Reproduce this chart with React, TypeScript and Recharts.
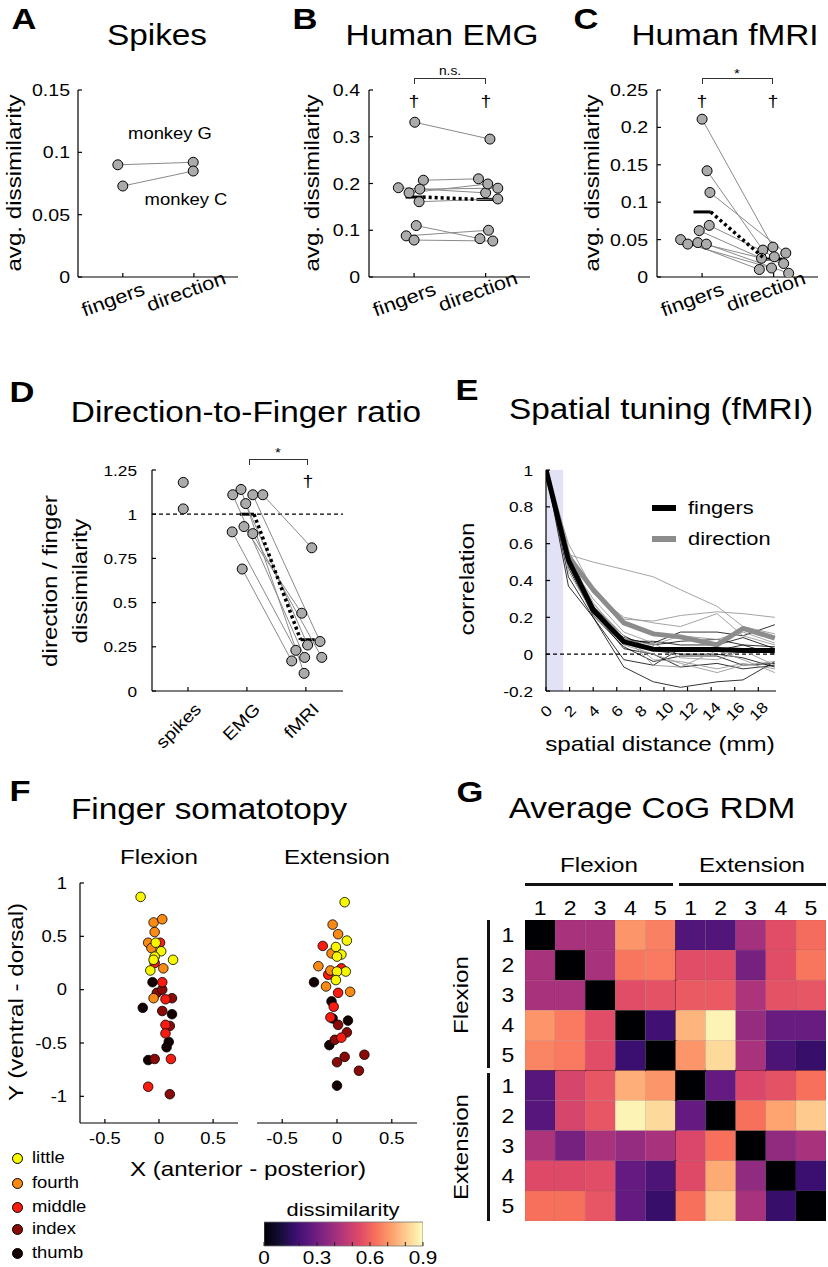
import React from 'react';
import {
  ScatterChart, Scatter, LineChart, Line, BarChart, Bar,
  XAxis, YAxis, ReferenceLine, ReferenceArea,
} from 'recharts';

const FONT = '"Liberation Sans", Arial, Helvetica, sans-serif';
const SX = 1.15;

// ---------- A: spikes (monkey G, monkey C) ----------
const spikeFingers = [0.090, 0.073];
const spikeFingersX = [0.93, 1.0];
const spikeDirection = [0.092, 0.085];
const spikeDirectionX = [1.99, 1.99];

// ---------- B: human EMG ----------
const emgFingers = [0.331, 0.191, 0.180, 0.207, 0.188, 0.161, 0.110, 0.088, 0.079];
const emgFingersX = [1.01, 0.78, 0.93, 1.13, 1.08, 1.07, 1.03, 0.89, 1.0];
const emgDirection = [0.295, 0.180, 0.199, 0.210, 0.190, 0.167, 0.082, 0.100, 0.077];
const emgDirectionX = [2.06, 2.0, 2.03, 1.90, 2.17, 2.17, 1.92, 2.04, 2.10];
const emgMeans = [0.171, 0.166];

// ---------- C: human fMRI ----------
const fmriFingers = [0.211, 0.142, 0.113, 0.069, 0.062, 0.050, 0.044, 0.046, 0.044];
const fmriFingersX = [1.0, 1.07, 1.11, 1.10, 0.96, 0.70, 0.80, 0.94, 1.06];
const fmriDirection = [0.040, 0.036, 0.032, 0.027, 0.025, 0.010, 0.012, 0.018, 0.005];
const fmriDirectionX = [1.99, 1.85, 2.17, 2.01, 1.83, 1.80, 1.97, 2.14, 2.21];
const fmriMeans = [0.087, 0.024];

// ---------- D: direction / finger ratio ----------
const ratioCategories = ['spikes', 'EMG', 'fMRI'];
const ratioSpikes = [1.18, 1.03];
const ratioSpikesX = [0.92, 0.92];
const ratioEmg = [1.11, 1.14, 1.11, 1.11, 1.06, 0.90, 0.93, 0.89, 0.69];
const ratioEmgX = [1.76, 1.90, 2.10, 2.27, 1.98, 1.75, 1.95, 2.10, 1.92];
const ratioFmri = [0.19, 0.10, 0.28, 0.81, 0.26, 0.23, 0.44, 0.19, 0.17];
const ratioFmriX = [2.98, 2.97, 3.24, 3.10, 3.03, 2.83, 2.93, 3.27, 2.76];
const ratioMeans = [1.0, 0.29];

// ---------- E: spatial tuning ----------
const distances = [0, 1.9, 4.0, 6.6, 9.1, 11.4, 14.5, 16.7, 19.4];
const fingersMean = [1, 0.51, 0.24, 0.067, 0.027, 0.025, 0.025, 0.02, 0.02];
const directionMean = [1, 0.53, 0.35, 0.17, 0.11, 0.094, 0.05, 0.14, 0.087];
const fingerSubjects = [
  [1, 0.42, 0.2, -0.07, -0.15, -0.18, -0.15, -0.14, -0.04],
  [1, 0.37, 0.2, -0.03, -0.06, 0.03, 0.02, 0.05, 0.0],
  [1, 0.5, 0.25, 0.08, 0.06, 0.12, 0.12, 0.1, 0.16],
  [1, 0.5, 0.22, 0.09, 0.05, 0.07, 0.08, 0.05, 0.04],
  [1, 0.47, 0.21, 0.04, -0.04, -0.01, -0.01, -0.06, -0.05],
  [1, 0.55, 0.26, 0.1, 0.02, 0.0, 0.0, -0.02, -0.07],
  [1, 0.52, 0.24, 0.07, 0.07, 0.05, 0.05, 0.09, 0.03],
  [1, 0.49, 0.23, 0.03, 0.0, -0.07, -0.05, -0.08, -0.06],
];
const directionSubjects = [
  [1, 0.54, 0.5, 0.46, 0.42, 0.35, 0.26, 0.15, 0.11],
  [1, 0.6, 0.35, 0.19, 0.18, 0.21, 0.23, 0.22, 0.2],
  [1, 0.56, 0.33, 0.2, 0.17, 0.15, 0.22, 0.1, 0.05],
  [1, 0.5, 0.3, 0.12, 0.06, -0.02, -0.03, 0.02, -0.06],
  [1, 0.48, 0.27, 0.1, -0.03, -0.04, -0.08, -0.05, -0.08],
  [1, 0.52, 0.28, 0.08, 0.05, 0.1, 0.08, 0.12, 0.06],
  [1, 0.5, 0.25, 0.1, -0.06, -0.07, 0.02, -0.03, -0.1],
  [1, 0.45, 0.22, 0.05, 0.0, -0.05, -0.1, -0.06, -0.04],
];

// ---------- F: finger somatotopy (x, y) ----------
const flexLittle = [[-0.17, 0.87], [-0.03, 0.44], [0.02, 0.36], [-0.04, 0.31], [-0.05, 0.28], [0.13, 0.28], [-0.08, 0.18]];
const flexFourth = [[-0.05, 0.63], [0.03, 0.66], [-0.04, 0.54], [-0.10, 0.44], [-0.07, 0.39], [0.04, 0.20], [-0.05, -0.08]];
const flexMiddle = [[0.01, 0.44], [-0.04, 0.25], [0.03, 0.07], [0.06, -0.09], [0.06, -0.33], [0.06, -0.41], [0.11, -0.65], [-0.10, -0.91]];
const flexIndex = [[-0.02, -0.03], [0.03, 0.0], [0.12, -0.08], [0.03, -0.2], [0.10, -0.34], [-0.04, -0.65], [0.10, -0.98]];
const flexThumb = [[-0.06, 0.07], [-0.15, -0.17], [0.12, -0.23], [0.09, -0.49], [0.07, -0.54], [-0.10, -0.66]];
const extLittle = [[0.07, 0.82], [0.09, 0.46], [-0.01, 0.40], [0.04, 0.33], [0.0, 0.31], [0.08, 0.17], [0.0, 0.17], [-0.01, 0.09]];
const extFourth = [[-0.04, 0.61], [0.01, 0.52], [-0.05, 0.34], [-0.17, 0.22], [-0.06, 0.18], [-0.10, 0.03], [0.12, -0.02]];
const extMiddle = [[-0.13, 0.41], [-0.08, 0.14], [0.04, 0.2], [0.01, -0.03], [-0.03, -0.16], [-0.06, -0.26], [0.04, -0.45]];
const extIndex = [[0.01, -0.33], [0.09, -0.40], [-0.02, -0.47], [0.25, -0.61], [0.07, -0.63], [0.0, -0.68], [0.2, -0.76]];
const extThumb = [[-0.21, 0.07], [-0.05, -0.11], [0.1, -0.29], [-0.04, -0.27], [-0.07, -0.52], [0.0, -0.90]];
const fingerNames = ['little', 'fourth', 'middle', 'index', 'thumb'];
const fingerColors = ['#f7f700', '#fb8a14', '#f81b10', '#8a0a08', '#140202'];

// ---------- G: average CoG RDM (F1..F5, E1..E5) ----------
const rdmLabels = ['1', '2', '3', '4', '5', '1', '2', '3', '4', '5'];
const rdm = [
  [0, 0.42, 0.42, 0.70, 0.66, 0.23, 0.23, 0.41, 0.55, 0.62],
  [0.42, 0, 0.42, 0.64, 0.65, 0.55, 0.55, 0.31, 0.55, 0.64],
  [0.42, 0.42, 0, 0.55, 0.56, 0.58, 0.58, 0.43, 0.56, 0.57],
  [0.70, 0.65, 0.55, 0, 0.19, 0.76, 0.88, 0.38, 0.28, 0.28],
  [0.67, 0.65, 0.55, 0.18, 0, 0.70, 0.83, 0.42, 0.22, 0.17],
  [0.24, 0.52, 0.57, 0.75, 0.70, 0, 0.27, 0.53, 0.56, 0.63],
  [0.24, 0.52, 0.57, 0.88, 0.83, 0.27, 0, 0.63, 0.73, 0.80],
  [0.43, 0.31, 0.42, 0.38, 0.42, 0.53, 0.63, 0, 0.37, 0.42],
  [0.54, 0.54, 0.55, 0.27, 0.22, 0.54, 0.74, 0.37, 0, 0.18],
  [0.63, 0.63, 0.57, 0.27, 0.17, 0.63, 0.80, 0.42, 0.17, 0],
];
const cbarMax = 0.9;
const cbarTicks = [0, 0.1, 0.2, 0.3, 0.4, 0.5, 0.6, 0.7, 0.8, 0.9];
const MAGMA = ['#000004', '#140e36', '#3b0f70', '#641a80', '#8c2981', '#b73779', '#de4968', '#f7705c', '#fe9f6d', '#fecf92', '#fcfdbf'];

function magma(t: number) {
  const c = Math.max(0, Math.min(1, t)) * 10;
  const i = Math.min(9, Math.floor(c));
  const f = c - i;
  const a = MAGMA[i], b = MAGMA[i + 1];
  const ch = (h: string, k: number) => parseInt(h.slice(1 + 2 * k, 3 + 2 * k), 16);
  const m = [0, 1, 2].map(k => Math.round(ch(a, k) + (ch(b, k) - ch(a, k)) * f));
  return `rgb(${m[0]},${m[1]},${m[2]})`;
}

const AX = { stroke: '#000', strokeWidth: 1.2 };
const fmt = (v: number) => String(Math.round(v * 1000) / 1000);

function mkTick(o: { dx?: number; dy?: number; anchor?: string; angle?: number; size?: number; label?: (v: number) => string }) {
  return (p: any) => {
    const v = p.payload.value;
    const s = o.label ? o.label(v) : fmt(v);
    if (!s) return <g />;
    return (
      <g transform={`translate(${p.x + (o.dx || 0)},${p.y + (o.dy || 0)}) rotate(${o.angle || 0}) scale(${SX},1)`}>
        <text x={0} y={0} textAnchor={o.anchor || 'middle'} dominantBaseline="central" fontSize={o.size || 17} fontFamily={FONT} fill="#000">{s}</text>
      </g>
    );
  };
}

// fingers / direction labels, slanted
const pairTick = (p: any) => {
  const i = Math.round(p.payload.value);
  const off = i === 1 ? [-10, 22] : [-8, 14];
  const s = i === 1 ? 'fingers' : 'direction';
  return (
    <g transform={`translate(${p.x + off[0]},${p.y + off[1]}) rotate(-20) scale(${SX},1)`}>
      <text textAnchor="middle" dominantBaseline="central" fontSize={19} fontFamily={FONT} fill="#000">{s}</text>
    </g>
  );
};

const NoDot = () => <g />;
const GrayDot = (p: any) => <circle cx={p.cx} cy={p.cy} r={5} fill="#ababab" stroke="#000" strokeWidth={1} />;
const colorDot = (c: string) => (p: any) => <circle cx={p.cx} cy={p.cy} r={4.8} fill={c} stroke="#000" strokeWidth={0.8} />;

const toPairs = (fx: number[], fy: number[], dx: number[], dy: number[]) =>
  fy.map((v, i) => [{ x: fx[i], y: v }, { x: dx[i], y: dy[i] }]);

function T({ x, y, s = 18, b = false, r = 0, start = false, children }: any) {
  return (
    <div style={{
      position: 'absolute', left: x, top: y, fontSize: s, fontWeight: b ? 700 : 400, lineHeight: 1,
      whiteSpace: 'nowrap', color: '#000', fontFamily: FONT,
      transform: start ? `translate(0,-50%) scaleX(${SX})` : `translate(-50%,-50%) rotate(${r}deg) scaleX(${SX})`,
      transformOrigin: start ? 'left center' : 'center center',
    }}>{children}</div>
  );
}

function Bracket({ x1, x2, y }: any) {
  return <div style={{ position: 'absolute', left: x1, top: y, width: x2 - x1, height: 6, borderTop: '1px solid #333', borderLeft: '1px solid #333', borderRight: '1px solid #333', boxSizing: 'border-box' }} />;
}

function PairChart(props: any) {
  const { left, top, width, height, margin, yw, xh, xDomain, yDomain, yTicks, xTicks, xTick, yTick, subjects, extraPts, means, meanX, refY } = props;
  const pts = [...subjects.flat(), ...(extraPts || [])];
  return (
    <div style={{ position: 'absolute', left, top }}>
      <ScatterChart width={width} height={height} margin={margin}>
        <XAxis type="number" dataKey="x" domain={xDomain} ticks={xTicks} interval={0} allowDataOverflow height={xh}
          axisLine={AX} tickLine={AX} tickSize={-4} tickMargin={4} tick={xTick} />
        <YAxis type="number" dataKey="y" domain={yDomain} ticks={yTicks} interval={0} allowDataOverflow width={yw}
          axisLine={AX} tickLine={AX} tickSize={-4} tickMargin={4} tick={yTick} />
        {refY !== undefined && <ReferenceLine y={refY} stroke="#000" strokeWidth={1.2} strokeDasharray="4 3" />}
        {subjects.map((s: any, i: number) => (
          <Scatter key={i} data={s} line={{ stroke: '#8a8a8a', strokeWidth: 1 }} shape={NoDot} isAnimationActive={false} />
        ))}
        <Scatter data={pts} shape={GrayDot} isAnimationActive={false} />
        {means && (
          <Scatter data={[{ x: meanX[0] + 0.12, y: means[0] }, { x: meanX[1] - 0.12, y: means[1] }]}
            line={{ stroke: '#000', strokeWidth: 3.5, strokeDasharray: '3 3' }} shape={NoDot} isAnimationActive={false} />
        )}
        {means && meanX.map((mx: number, i: number) => (
          <ReferenceLine key={'m' + i} segment={[{ x: mx - 0.12, y: means[i] }, { x: mx + 0.12, y: means[i] }]} stroke="#000" strokeWidth={3} />
        ))}
      </ScatterChart>
    </div>
  );
}

function FingerMap({ left, width, margin, showY, sets }: any) {
  return (
    <div style={{ position: 'absolute', left, top: 853 }}>
      <ScatterChart width={width} height={300} margin={margin}>
        <XAxis type="number" dataKey="x" domain={[-0.73, 0.73]} ticks={[-0.5, 0, 0.5]} interval={0} allowDataOverflow height={30}
          axisLine={AX} tickLine={AX} tickSize={-4} tickMargin={4} tick={mkTick({ dy: 15, size: 16 })} />
        <YAxis type="number" dataKey="y" domain={[-1.25, 1]} ticks={[-1, -0.5, 0, 0.5, 1]} interval={0} allowDataOverflow width={60} hide={!showY}
          axisLine={AX} tickLine={AX} tickSize={-4} tickMargin={4} tick={mkTick({ dx: -13, anchor: 'end', size: 16 })} />
        {[4, 3, 2, 1, 0].map(k => (
          <Scatter key={k} data={sets[k].map((p: number[]) => ({ x: p[0], y: p[1] }))} shape={colorDot(fingerColors[k])} isAnimationActive={false} />
        ))}
      </ScatterChart>
    </div>
  );
}

export default function App() {
  const eRows = distances.map((d, i) => {
    const r: any = { d, F: fingersMean[i], D: directionMean[i] };
    fingerSubjects.forEach((s, j) => { r['f' + j] = s[i]; });
    directionSubjects.forEach((s, j) => { r['g' + j] = s[i]; });
    return r;
  });
  const cells: any[] = [];
  rdm.forEach((row, r) => row.forEach((v, c) => cells.push({ x: c + 1, y: r + 1, v })));
  const CELL = 301 / 10;
  const pairMargin = (right: number) => ({ top: 30, right, bottom: 13, left: 0 });
  const yTickAC = mkTick({ dx: -9, anchor: 'end', size: 17 });
  const cbData = [{ name: 'cb', v: cbarMax }];
  const cbMargin = { top: 10, right: 31, bottom: 0, left: 10 };

  return (
    <div style={{ position: 'absolute', left: 0, top: 0, width: 828, height: 1267, background: '#fff', fontFamily: FONT, overflow: 'hidden' }}>
      {/* A */}
      <T x={24} y={19} s={30} b>A</T>
      <T x={157} y={35} s={29}>Spikes</T>
      <T x={13} y={183} s={21} r={-90}>avg. dissimilarity</T>
      <PairChart left={0} top={60} width={250} height={280} margin={pairMargin(12)} yw={78} xh={50}
        xDomain={[0.37, 2.62]} yDomain={[0, 0.15]} yTicks={[0, 0.05, 0.1, 0.15]} xTicks={[1, 2]}
        xTick={pairTick} yTick={mkTick({ dx: -8, anchor: 'end', size: 17 })}
        subjects={toPairs(spikeFingersX, spikeFingers, spikeDirectionX, spikeDirection)} />
      <T x={170} y={134} s={16}>monkey G</T>
      <T x={186} y={200} s={16}>monkey C</T>

      {/* B */}
      <T x={305} y={19} s={30} b>B</T>
      <T x={442} y={35} s={29}>Human EMG</T>
      <T x={311} y={183} s={21} r={-90}>avg. dissimilarity</T>
      <PairChart left={290} top={60} width={250} height={280} margin={pairMargin(10)} yw={79} xh={50}
        xDomain={[0.37, 2.62]} yDomain={[0, 0.4]} yTicks={[0, 0.1, 0.2, 0.3, 0.4]} xTicks={[1, 2]}
        xTick={pairTick} yTick={yTickAC}
        subjects={toPairs(emgFingersX, emgFingers, emgDirectionX, emgDirection)} means={emgMeans} meanX={[1, 2]} />
      <Bracket x1={414} x2={486} y={78} />
      <T x={450} y={71} s={12}>n.s.</T>
      <T x={414} y={101} s={17}>†</T>
      <T x={486} y={101} s={17}>†</T>

      {/* C */}
      <T x={586} y={19} s={30} b>C</T>
      <T x={725} y={35} s={29}>Human fMRI</T>
      <T x={591} y={183} s={21} r={-90}>avg. dissimilarity</T>
      <PairChart left={578} top={60} width={250} height={280} margin={pairMargin(10)} yw={79} xh={50}
        xDomain={[0.37, 2.62]} yDomain={[0, 0.25]} yTicks={[0, 0.05, 0.1, 0.15, 0.2, 0.25]} xTicks={[1, 2]}
        xTick={pairTick} yTick={yTickAC}
        subjects={toPairs(fmriFingersX, fmriFingers, fmriDirectionX, fmriDirection)} means={fmriMeans} meanX={[1, 2]} />
      <Bracket x1={702} x2={773} y={78} />
      <T x={737} y={73} s={13}>*</T>
      <T x={702} y={101} s={17}>†</T>
      <T x={773} y={101} s={17}>†</T>

      {/* D */}
      <T x={22} y={392} s={30} b>D</T>
      <T x={246} y={412} s={29}>Direction-to-Finger ratio</T>
      <T x={49} y={581} s={21} r={-90}>direction / finger</T>
      <T x={79} y={581} s={21} r={-90}>dissimilarity</T>
      <PairChart left={60} top={440} width={295} height={321} margin={{ top: 30, right: 12, bottom: 0, left: 0 }} yw={92} xh={70}
        xDomain={[0.39, 3.63]} yDomain={[0, 1.25]} yTicks={[0, 0.25, 0.5, 0.75, 1, 1.25]} xTicks={[1, 2, 3]}
        xTick={mkTick({ dx: 10, dy: 15, anchor: 'end', angle: -45, size: 17, label: v => ratioCategories[Math.round(v) - 1] })}
        yTick={mkTick({ dx: -15, anchor: 'end', size: 15 })}
        subjects={toPairs(ratioEmgX, ratioEmg, ratioFmriX, ratioFmri)}
        extraPts={ratioSpikes.map((v, i) => ({ x: ratioSpikesX[i], y: v }))}
        means={ratioMeans} meanX={[2, 3.03]} refY={1} />
      <Bracket x1={249} x2={308} y={459} />
      <T x={278} y={452} s={13}>*</T>
      <T x={308} y={481} s={17}>†</T>

      {/* E */}
      <T x={467} y={390} s={30} b>E</T>
      <T x={661} y={409} s={29}>Spatial tuning (fMRI)</T>
      <T x={466} y={579} s={21} r={-90}>correlation</T>
      <div style={{ position: 'absolute', left: 490, top: 440 }}>
        <LineChart width={300} height={291} data={eRows} margin={{ top: 30, right: 14, bottom: 0, left: 0 }}>
          <XAxis type="number" dataKey="d" domain={[0, 19.5]} ticks={[0, 2, 4, 6, 8, 10, 12, 14, 16, 18]} interval={0} allowDataOverflow height={40}
            axisLine={AX} tickLine={AX} tickSize={-4} tickMargin={4} tick={mkTick({ dx: 0, dy: 20, angle: -45, size: 15 })} />
          <YAxis type="number" domain={[-0.2, 1]} ticks={[-0.2, 0, 0.2, 0.4, 0.6, 0.8, 1]} interval={0} allowDataOverflow width={56}
            axisLine={AX} tickLine={AX} tickSize={-4} tickMargin={4} tick={mkTick({ dx: -13, anchor: 'end', size: 15 })} />
          <ReferenceArea x1={0} x2={1.45} y1={-0.2} y2={1} fill="#e2e2f7" fillOpacity={1} stroke="none" />
          <ReferenceLine y={0} stroke="#000" strokeWidth={1.2} strokeDasharray="4 3" />
          {fingerSubjects.map((_, j) => (
            <Line key={'f' + j} dataKey={'f' + j} type="linear" stroke="#000" strokeWidth={0.8} dot={false} isAnimationActive={false} />
          ))}
          {directionSubjects.map((_, j) => (
            <Line key={'g' + j} dataKey={'g' + j} type="linear" stroke="#9a9a9a" strokeWidth={0.9} dot={false} isAnimationActive={false} />
          ))}
          <Line dataKey="D" type="linear" stroke="#8c8c8c" strokeWidth={5} dot={false} isAnimationActive={false} />
          <Line dataKey="F" type="linear" stroke="#000" strokeWidth={5} dot={false} isAnimationActive={false} />
        </LineChart>
      </div>
      <div style={{ position: 'absolute', left: 652, top: 505, width: 24, height: 6, background: '#000' }} />
      <div style={{ position: 'absolute', left: 652, top: 536, width: 24, height: 6, background: '#8c8c8c' }} />
      <T x={688} y={507} s={19} start>fingers</T>
      <T x={688} y={538} s={19} start>direction</T>
      <T x={660} y={743} s={21}>spatial distance (mm)</T>

      {/* F */}
      <T x={20} y={791} s={30} b>F</T>
      <T x={209} y={809} s={29}>Finger somatotopy</T>
      <T x={159} y={856} s={21}>Flexion</T>
      <T x={337} y={856} s={21}>Extension</T>
      <T x={15} y={1002} s={21} r={-90}>Y (ventral - dorsal)</T>
      <FingerMap left={20} width={230} margin={{ top: 30, right: 12, bottom: 0, left: 0 }} showY
        sets={[flexLittle, flexFourth, flexMiddle, flexIndex, flexThumb]} />
      <FingerMap left={250} width={180} margin={{ top: 30, right: 13, bottom: 0, left: 7 }} showY={false}
        sets={[extLittle, extFourth, extMiddle, extIndex, extThumb]} />
      <T x={248} y={1168} s={21}>X (anterior - posterior)</T>
      {fingerNames.map((n, i) => (
        <React.Fragment key={n}>
          <div style={{ position: 'absolute', left: 11.5, top: [1158, 1183, 1207, 1229, 1253][i] - 5.5, width: 11, height: 11, borderRadius: '50%', background: fingerColors[i], border: '1px solid #000', boxSizing: 'border-box' }} />
          <T x={32} y={[1158, 1183, 1207, 1229, 1253][i]} s={16} start>{n}</T>
        </React.Fragment>
      ))}

      {/* colorbar: gradient bar, then an overlay that carries the inward ticks and labels */}
      <T x={343} y={1209} s={19}>dissimilarity</T>
      <div style={{ position: 'absolute', left: 254, top: 1212 }}>
        <BarChart width={200} height={55} layout="vertical" data={cbData} margin={cbMargin} barCategoryGap={0}>
          <defs>
            <linearGradient id="magmaGrad" x1="0" y1="0" x2="1" y2="0">
              {MAGMA.map((c, i) => <stop key={i} offset={`${i * 10}%`} stopColor={c} />)}
            </linearGradient>
          </defs>
          <XAxis type="number" domain={[0, cbarMax]} ticks={cbarTicks} interval={0} allowDataOverflow height={21}
            axisLine={false} tickLine={false} tick={false} />
          <YAxis type="category" dataKey="name" hide />
          <Bar dataKey="v" fill="url(#magmaGrad)" stroke="#777" strokeWidth={0.8} isAnimationActive={false} />
        </BarChart>
      </div>
      <div style={{ position: 'absolute', left: 254, top: 1212 }}>
        <BarChart width={200} height={55} layout="vertical" data={cbData} margin={cbMargin} barCategoryGap={0}>
          <XAxis type="number" domain={[0, cbarMax]} ticks={cbarTicks} interval={0} allowDataOverflow height={21}
            axisLine={false} tickLine={{ stroke: '#222', strokeWidth: 1 }} tickSize={-4} tickMargin={4}
            tick={mkTick({ dy: 12, size: 18, label: v => (Math.abs(Math.round(v * 10) % 3) === 0 ? fmt(v) : '') })} />
          <YAxis type="category" dataKey="name" hide />
          <Bar dataKey="v" fill="none" stroke="none" isAnimationActive={false} />
        </BarChart>
      </div>

      {/* G */}
      <T x={470} y={792} s={30} b>G</T>
      <T x={652} y={808} s={29}>Average CoG RDM</T>
      <T x={599} y={864} s={21}>Flexion</T>
      <T x={752} y={864} s={21}>Extension</T>
      <div style={{ position: 'absolute', left: 525, top: 883, width: 148, height: 3, background: '#111' }} />
      <div style={{ position: 'absolute', left: 679, top: 883, width: 147, height: 3, background: '#111' }} />
      <div style={{ position: 'absolute', left: 487, top: 920, width: 3, height: 148, background: '#111' }} />
      <div style={{ position: 'absolute', left: 487, top: 1073, width: 3, height: 148, background: '#111' }} />
      <T x={460} y={995} s={21} r={-90}>Flexion</T>
      <T x={460} y={1147} s={21} r={-90}>Extension</T>
      <div style={{ position: 'absolute', left: 480, top: 880 }}>
        <ScatterChart width={348} height={343} margin={{ top: 0, right: 2, bottom: 2, left: 0 }}>
          <XAxis type="number" dataKey="x" orientation="top" domain={[0.5, 10.5]} ticks={[1, 2, 3, 4, 5, 6, 7, 8, 9, 10]} interval={0} allowDataOverflow height={40}
            axisLine={false} tickLine={false} tickSize={0} tickMargin={0} tick={mkTick({ dy: -12, size: 20, label: v => rdmLabels[Math.round(v) - 1] })} />
          <YAxis type="number" dataKey="y" reversed domain={[0.5, 10.5]} ticks={[1, 2, 3, 4, 5, 6, 7, 8, 9, 10]} interval={0} allowDataOverflow width={45}
            axisLine={false} tickLine={false} tickSize={0} tickMargin={0} tick={mkTick({ dx: -17, size: 20, label: v => rdmLabels[Math.round(v) - 1] })} />
          <Scatter data={cells} isAnimationActive={false}
            shape={(p: any) => <rect x={p.cx - CELL / 2} y={p.cy - CELL / 2} width={CELL} height={CELL} fill={magma(p.payload.v / cbarMax)} stroke="rgba(0,0,0,0.12)" strokeWidth={0.6} />} />
          <ReferenceLine x={5.5} stroke="#000" strokeWidth={3.5} />
          <ReferenceLine y={5.5} stroke="#000" strokeWidth={3.5} />
        </ScatterChart>
      </div>
    </div>
  );
}
